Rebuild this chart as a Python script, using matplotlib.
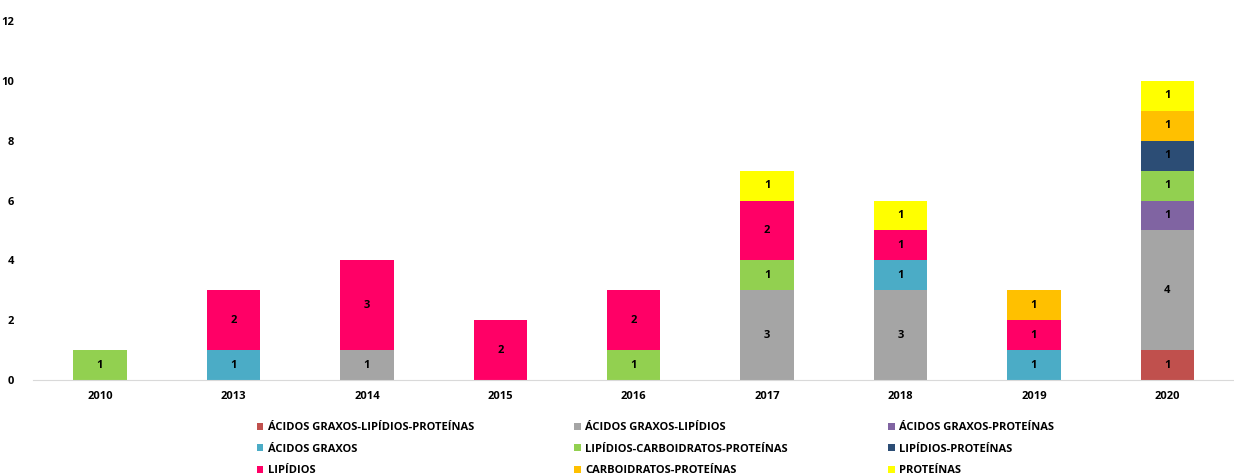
import numpy as np
import matplotlib.pyplot as plt

plt.rcParams['font.family'] = ['Open Sans', 'DejaVu Sans']
plt.rcParams['font.weight'] = 'bold'

anos = ['2010', '2013', '2014', '2015', '2016', '2017', '2018', '2019', '2020']

series = [
    'ÁCIDOS GRAXOS-LIPÍDIOS-PROTEÍNAS',
    'ÁCIDOS GRAXOS-LIPÍDIOS',
    'ÁCIDOS GRAXOS-PROTEÍNAS',
    'ÁCIDOS GRAXOS',
    'LIPÍDIOS-CARBOIDRATOS-PROTEÍNAS',
    'LIPÍDIOS-PROTEÍNAS',
    'LIPÍDIOS',
    'CARBOIDRATOS-PROTEÍNAS',
    'PROTEÍNAS',
]

ag_lip_prot = [0, 0, 0, 0, 0, 0, 0, 0, 1]
ag_lip = [0, 0, 1, 0, 0, 3, 3, 0, 4]
ag_prot = [0, 0, 0, 0, 0, 0, 0, 0, 1]
ag = [0, 1, 0, 0, 0, 0, 1, 1, 0]
lip_carb_prot = [1, 0, 0, 0, 1, 1, 0, 0, 1]
lip_prot = [0, 0, 0, 0, 0, 0, 0, 0, 1]
lip = [0, 2, 3, 2, 2, 2, 1, 1, 0]
carb_prot = [0, 0, 0, 0, 0, 0, 0, 1, 1]
prot = [0, 0, 0, 0, 0, 1, 1, 0, 1]

valores = [ag_lip_prot, ag_lip, ag_prot, ag, lip_carb_prot, lip_prot, lip, carb_prot, prot]
cores = ['#C0504D', '#A5A5A5', '#8064A2', '#4BACC6', '#92D050',
         '#2C4D75', '#FF0066', '#FFC000', '#FFFF00']

fig = plt.figure(figsize=(12.34, 4.74), dpi=100)
ax = fig.add_axes([0.027, 0.198, 0.973, 0.758])

x = np.arange(len(anos))
base = np.zeros(len(anos))
for nome, vals, cor in zip(series, valores, cores):
    vals = np.array(vals, dtype=float)
    ax.bar(x, vals, 0.4, bottom=base, color=cor, label=nome)
    for xi, v, b in zip(x, vals, base):
        if v > 0:
            ax.text(xi, b + v / 2, str(int(v)), ha='center', va='center',
                    fontsize=8, fontweight='bold', color='black')
    base += vals

ax.set_xlim(-0.5, len(anos) - 0.5)
ax.set_ylim(0, 12)
ax.set_yticks(range(0, 13, 2))
ax.set_xticks(x)
ax.set_xticklabels(anos)
for s in ['top', 'right', 'left']:
    ax.spines[s].set_visible(False)
ax.spines['bottom'].set_color('#D9D9D9')
ax.tick_params(axis='both', length=0, labelsize=8)
ax.tick_params(axis='x', pad=8)
ax.tick_params(axis='y', pad=14)

# legenda preenchida por linhas (ordem do Excel)
handles, labels = ax.get_legend_handles_labels()
ordem = [0, 3, 6, 1, 4, 7, 2, 5, 8]
fig.legend([handles[i] for i in ordem], [labels[i] for i in ordem],
           loc='lower left', bbox_to_anchor=(0.2, -0.026), ncol=3, frameon=False,
           fontsize=8, handlelength=0.6, handleheight=0.6, handletextpad=0.4,
           columnspacing=9.0, labelspacing=0.95)

fig.savefig('out.png', dpi=100)
